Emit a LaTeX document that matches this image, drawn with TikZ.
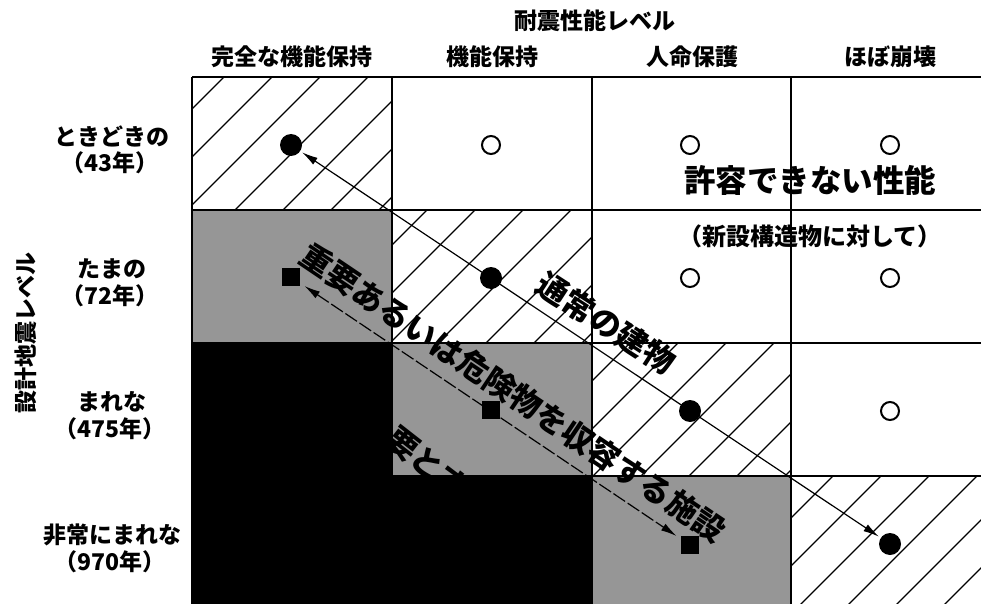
\documentclass[tikz,border=0pt]{standalone}
\usepackage{fontspec}
\setmainfont{Noto Sans CJK JP}
\usetikzlibrary{arrows.meta}
\definecolor{stip}{RGB}{150,150,150}
\tikzset{
  gridline/.style={line width=1.2pt,black},
  hatchline/.style={line width=1.1pt,black},
  dotnode/.style={circle,fill=black,minimum size=22pt,inner sep=0pt},
  ringnode/.style={circle,draw=black,line width=2pt,minimum size=18pt,inner sep=0pt},
  sqnode/.style={rectangle,fill=black,minimum size=18pt,inner sep=0pt},
  conn/.style={line width=1.2pt,{Latex[length=16pt,width=8pt]}-{Latex[length=16pt,width=8pt]}},
  dconn/.style={conn,dash pattern=on 14pt off 3pt},
  lbl/.style={font=\bfseries\fontsize{23}{26}\selectfont,inner sep=0pt},
  note/.style={font=\bfseries\fontsize{24}{27}\selectfont,inner sep=0pt},
  diag/.style={font=\bfseries\fontsize{31.5}{35}\selectfont,inner sep=0pt},
}
\begin{document}
\begin{tikzpicture}[x=1pt,y=-1pt]
\useasboundingbox (0,0) rectangle (981,604);
\fill[white] (0,0) rectangle (981,604);
% shaded cells
\fill[stip] (192,210) rectangle (392,343);
\fill[stip] (392,343) rectangle (592,476);
\fill[stip] (592,476) rectangle (791,609);
\fill[black] (192,343) rectangle (392,609);
\fill[black] (392,476) rectangle (592,609);
% hatching
\begin{scope}
\clip (192,77) rectangle (392,210) (392,210) rectangle (592,343)
      (592,343) rectangle (791,476) (791,476) rectangle (991,609);
\foreach \k in {-5,...,25} {
  \draw[hatchline] ({445+48*\k},0) -- ++(-700,700);
}
\end{scope}
% grid
\foreach \x in {192,392,592,791} { \draw[gridline] (\x,77) -- (\x,609); }
\foreach \y in {77,210,343,476} { \draw[gridline] (192,\y) -- (991,\y); }
% markers
\node[dotnode] (d1) at (291,145) {};
\node[dotnode] (d2) at (491,278) {};
\node[dotnode] (d3) at (690,411) {};
\node[dotnode] (d4) at (890,544) {};
\node[sqnode] (s1) at (291,277) {};
\node[sqnode] (s2) at (491,410) {};
\node[sqnode] (s3) at (690,545) {};
\node[ringnode] (o1) at (491,145) {};
\node[ringnode] (o2) at (690,145) {};
\node[ringnode] (o3) at (890,145) {};
\node[ringnode] (o4) at (690,278) {};
\node[ringnode] (o5) at (890,278) {};
\node[ringnode] (o6) at (890,411) {};
% connectors
\draw[conn,shorten <=2pt,shorten >=2pt] (d1) -- (d4);
\draw[dconn,shorten <=5pt,shorten >=5pt] (s1) -- (s3);
% headings
\node[lbl] (title) at (595,21) {耐震性能レベル};
\node[lbl] (h1) at (292,57) {完全な機能保持};
\node[lbl] (h2) at (492,57) {機能保持};
\node[lbl] (h3) at (692,57) {人命保護};
\node[lbl] (h4) at (890,57) {ほぼ崩壊};
\node[lbl,rotate=90] (vl) at (26,333) {設計地震レベル};
\node[lbl] (r1a) at (112,136) {ときどきの};
\node[lbl] (r1b) at (110,163) {（43年）};
\node[lbl] (r2a) at (112,269) {たまの};
\node[lbl] (r2b) at (110,296) {（72年）};
\node[lbl] (r3a) at (112,402) {まれな};
\node[lbl] (r3b) at (110,429) {（475年）};
\node[lbl] (r4a) at (112,535) {非常にまれな};
\node[lbl] (r4b) at (110,562) {（970年）};
% region texts
\node[diag] (na) at (810,180) {許容できない性能};
\node[note] (nb) at (810,236) {（新設構造物に対して）};
\node[diag,rotate=-34] (t1) at (513,393) {重要あるいは危険物を収容する施設};
\node[diag,rotate=-33] (t2) at (606,323) {通常の建物};
\node[diag,rotate=-38] (t3) at (427,463) {要とす};
\end{tikzpicture}
\end{document}
